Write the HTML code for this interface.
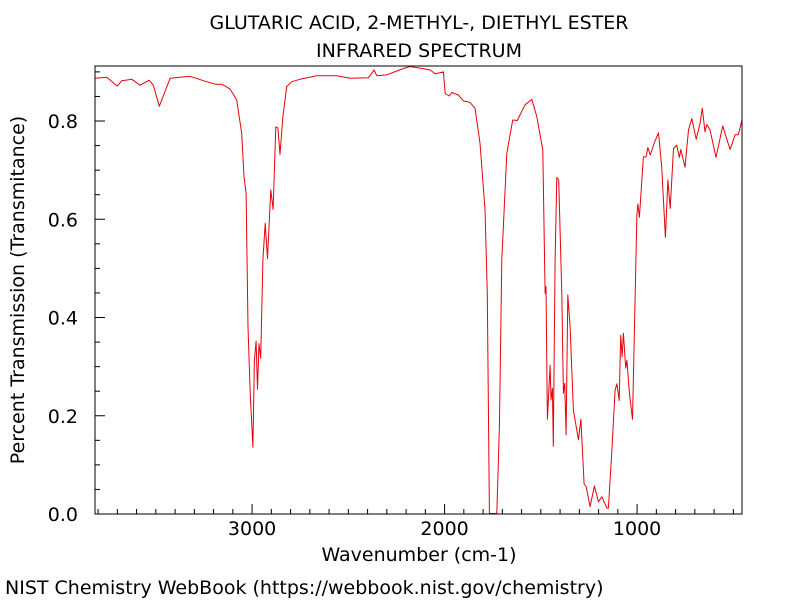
<!DOCTYPE html>
<html><head><meta charset="utf-8"><style>
body{margin:0;background:#fff;}
svg{display:block;font-family:"DejaVu Sans","Liberation Sans",sans-serif;}
</style></head><body>
<svg id="chart" width="800" height="600" viewBox="0 0 800 600">
<text x="419" y="29" font-size="19" text-anchor="middle">GLUTARIC ACID, 2-METHYL-, DIETHYL ESTER</text>
<text x="419" y="57" font-size="19" text-anchor="middle">INFRARED SPECTRUM</text>
<g id="axes"></g>
<path id="spectrum" fill="none" stroke="#e8000b" stroke-width="1" stroke-linejoin="round"></path>
<rect x="95" y="66" width="647" height="448" fill="none" stroke="#000" stroke-width="1"/>
<text x="419" y="561" font-size="19" text-anchor="middle">Wavenumber (cm-1)</text>
<text transform="translate(24,290) rotate(-90)" font-size="19" text-anchor="middle">Percent Transmission (Transmitance)</text>
<text x="5" y="594" font-size="19">NIST Chemistry WebBook (https://webbook.nist.gov/chemistry)</text>
</svg>
<script>
const wavenumbers=[3816,3755,3700,3677,3625,3582,3534,3513,3482,3426,3322,3253,3192,3157,3114,3080,3054,3042,3031,3021,3010,2996,2988,2979,2972,2964,2955,2944,2932,2920,2903,2891,2877,2866,2855,2840,2820,2794,2751,2664,2560,2491,2396,2366,2352,2300,2214,2179,2075,2049,2006,1997,1975,1963,1928,1902,1868,1842,1816,1790,1778,1767,1729,1715,1703,1677,1646,1622,1582,1547,1521,1490,1478,1473,1466,1452,1447,1440,1435,1426,1417,1407,1391,1383,1376,1369,1360,1348,1331,1305,1292,1275,1265,1244,1222,1201,1183,1157,1149,1131,1114,1105,1093,1085,1078,1071,1059,1053,1040,1024,1010,1001,996,988,967,953,944,932,910,889,872,853,840,828,811,794,780,773,751,733,716,693,673,661,647,638,621,590,555,517,491,474,455];
const transmittance=[0.887,0.889,0.871,0.882,0.885,0.873,0.883,0.873,0.830,0.887,0.891,0.882,0.875,0.875,0.865,0.843,0.775,0.687,0.653,0.381,0.246,0.136,0.313,0.352,0.254,0.347,0.317,0.517,0.592,0.520,0.660,0.620,0.788,0.786,0.732,0.809,0.870,0.880,0.885,0.892,0.892,0.887,0.888,0.904,0.892,0.894,0.907,0.911,0.904,0.896,0.900,0.856,0.851,0.858,0.853,0.841,0.838,0.826,0.755,0.619,0.449,0.001,0.001,0.178,0.517,0.734,0.802,0.801,0.833,0.844,0.809,0.741,0.449,0.463,0.193,0.303,0.232,0.256,0.138,0.517,0.685,0.680,0.449,0.246,0.266,0.161,0.446,0.381,0.212,0.151,0.193,0.061,0.056,0.015,0.057,0.025,0.035,0.012,0.012,0.130,0.252,0.265,0.231,0.364,0.320,0.368,0.297,0.313,0.246,0.193,0.449,0.609,0.631,0.604,0.727,0.727,0.746,0.731,0.756,0.776,0.707,0.563,0.680,0.622,0.744,0.751,0.726,0.742,0.706,0.782,0.805,0.763,0.795,0.826,0.778,0.793,0.782,0.726,0.790,0.742,0.772,0.772,0.802];
const xTickValues=[3000,2000,1000];
const xTickLabels=["3000","2000","1000"];
const yTickValues=[0,0.2,0.4,0.6,0.8];
const yTickLabels=["0.0","0.2","0.4","0.6","0.8"];

const X0=95,X1=742,Y0=514,Y1=66;
const WN_MAX=3816,WN_MIN=455,T_MIN=0,T_MAX=0.912;
function xScale(w){return X0+(WN_MAX-w)/(WN_MAX-WN_MIN)*(X1-X0);}
function yScale(t){return Y0-(t-T_MIN)/(T_MAX-T_MIN)*(Y0-Y1);}
const NS="http://www.w3.org/2000/svg";
const axes=document.getElementById('axes');
function line(x1,y1,x2,y2,name){const l=document.createElementNS(NS,'line');
l.setAttribute('x1',x1);l.setAttribute('y1',y1);l.setAttribute('x2',x2);l.setAttribute('y2',y2);
l.setAttribute('stroke','#000');l.setAttribute('stroke-width','1');


axes.appendChild(l);}
function text(x,y,s,anchor,name){const t=document.createElementNS(NS,'text');
t.setAttribute('x',x);t.setAttribute('y',y);t.setAttribute('font-size','19');t.setAttribute('text-anchor',anchor);t.textContent=s;


axes.appendChild(t);}
for(let w=500;w<=3800;w+=100){const x=xScale(w);const major=w%1000===0;line(x,Y0,x,Y0-(major?10:5),'x-tick');}
xTickValues.forEach((v,i)=>text(xScale(v),Y0+21,xTickLabels[i],'middle','x-tick-label'));
for(let k=0;k<=18;k++){const t=k*0.05;const y=yScale(t);const major=k%4===0;line(X0,y,X0+(major?10:5),y,'y-tick');}
yTickValues.forEach((v,i)=>text(X0-17,yScale(v)+7,yTickLabels[i],'end','y-tick-label'));
let d='';
wavenumbers.forEach((w,i)=>{d+=(i?'L':'M')+xScale(w).toFixed(1)+','+yScale(transmittance[i]).toFixed(1);});
document.getElementById('spectrum').setAttribute('d',d);
</script>
</body></html>
